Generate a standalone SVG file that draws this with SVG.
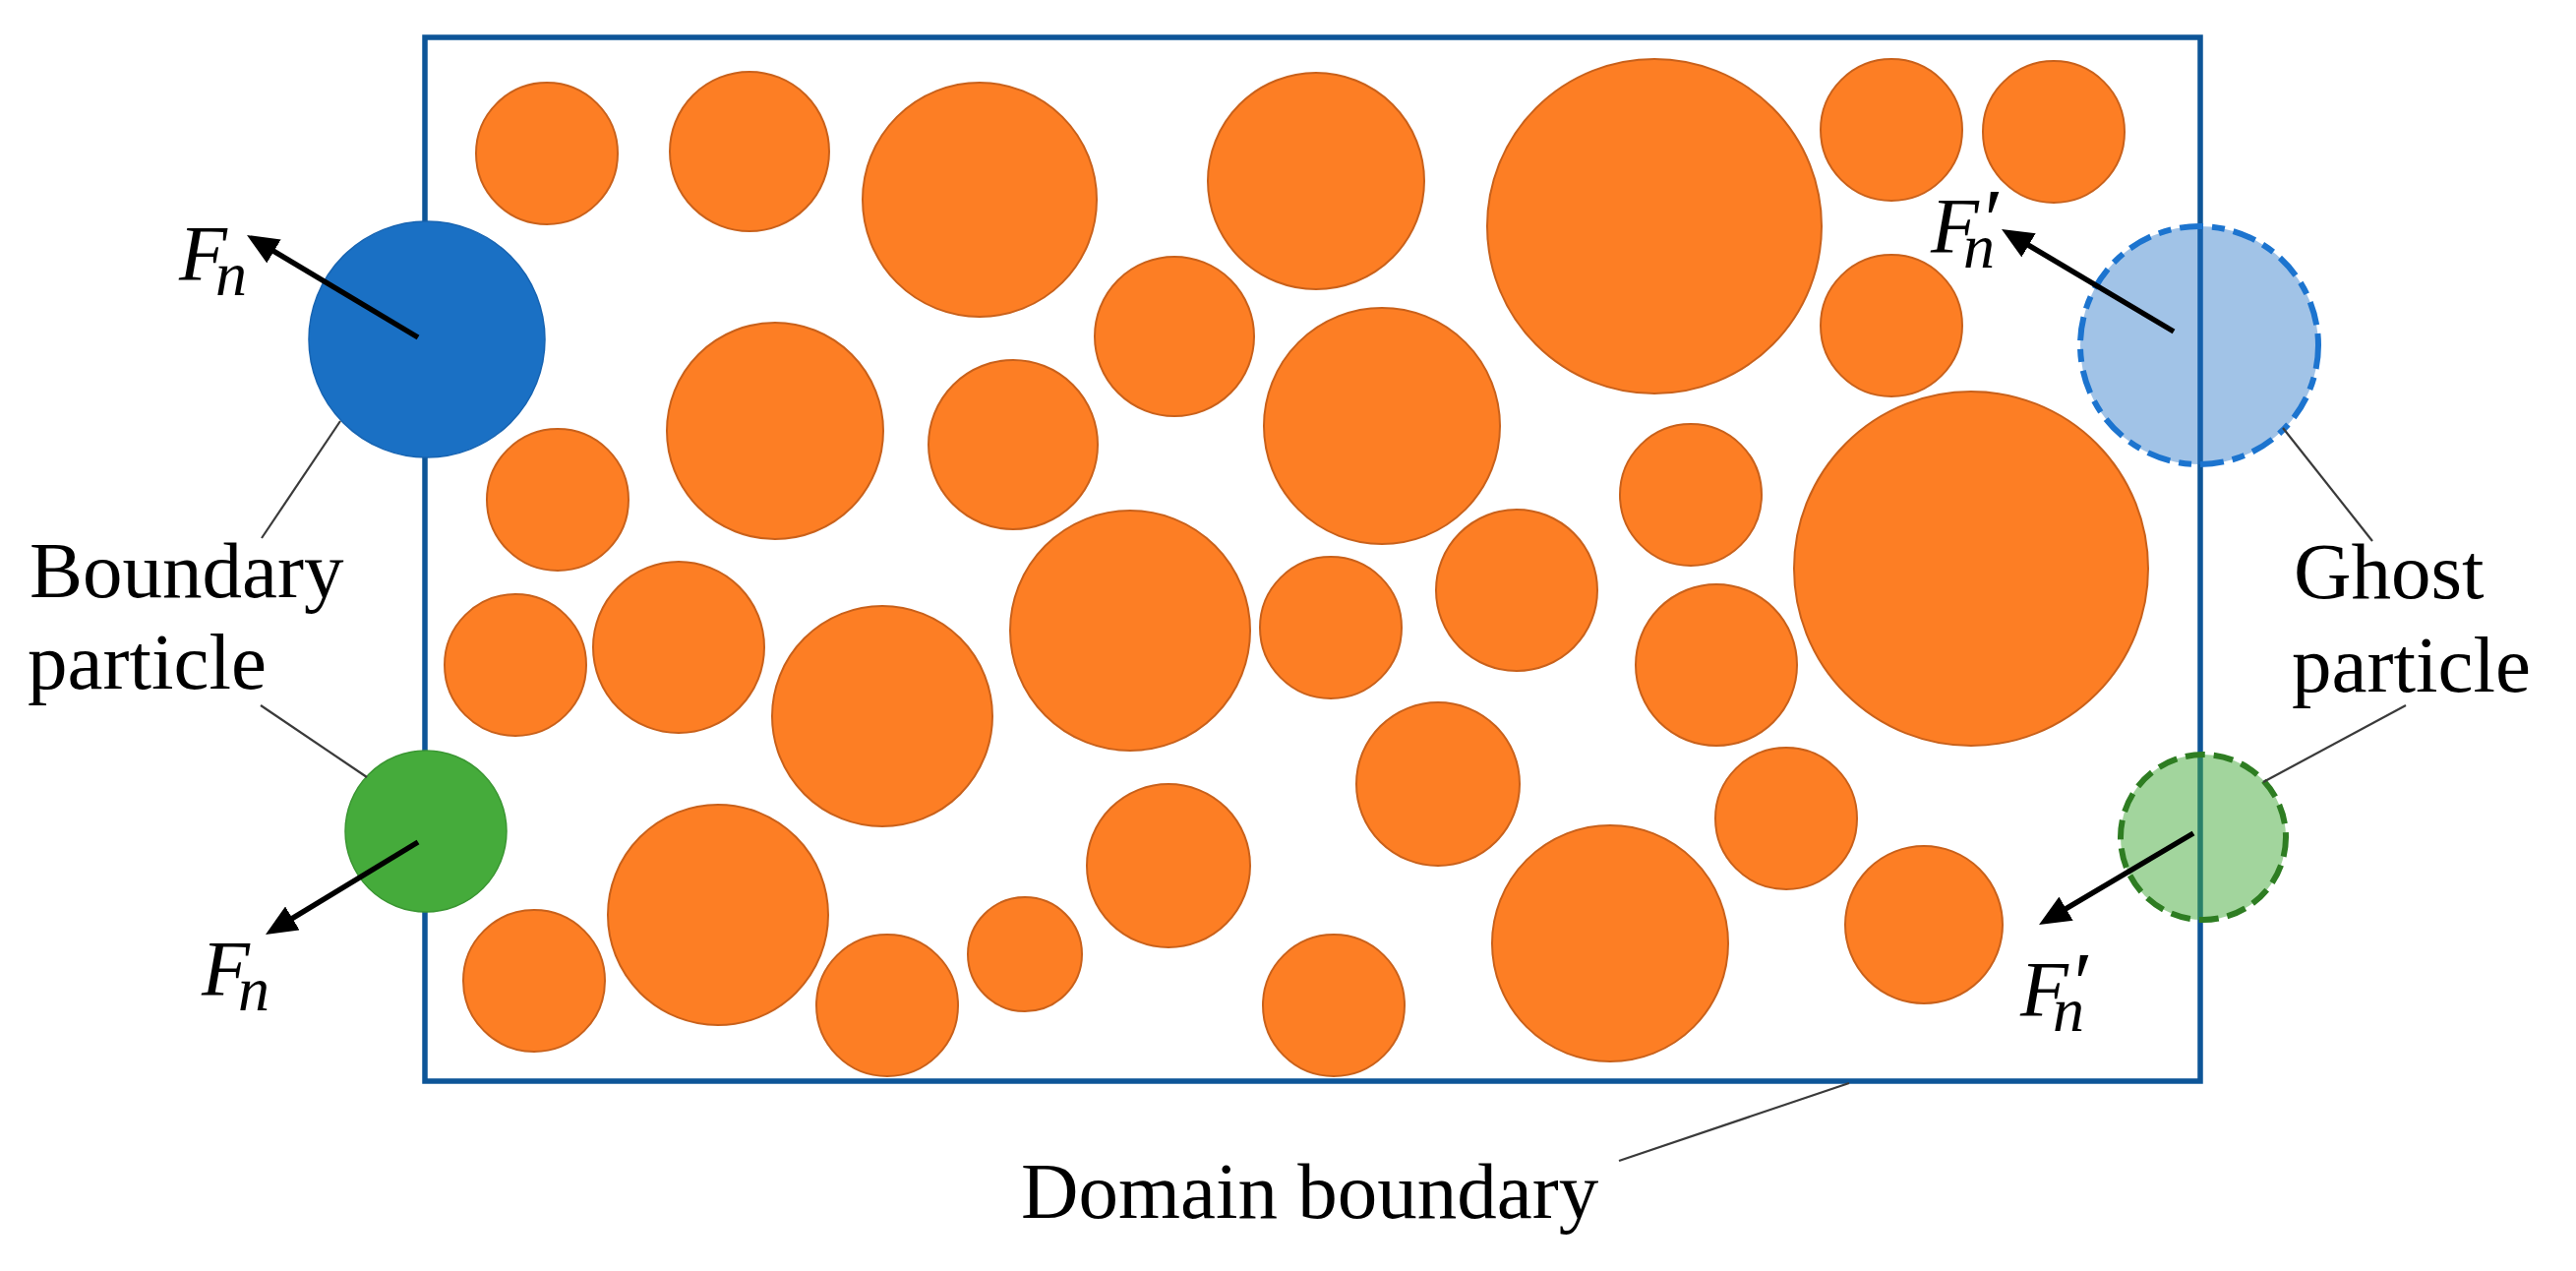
<svg xmlns="http://www.w3.org/2000/svg" width="2619" height="1292" viewBox="0 0 2619 1292">
<style>
.bg{fill:#ffffff}
.domain{fill:none;stroke:#0D5598;stroke-width:5.5}
.p{fill:#FD7E24;stroke:#C9611B;stroke-width:2}
.bblue{fill:#1A70C4;stroke:#1764B2;stroke-width:1.5}
.bgreen{fill:#45AB3B;stroke:#3A9632;stroke-width:1.5}
.gblue{fill:#1F70C6;fill-opacity:0.42}
.gblue-s{fill:none;stroke:#1C74CF;stroke-width:6;stroke-dasharray:24 9 13 9}
.ggreen{fill:#45AB3B;fill-opacity:0.5}
.ggreen-s{fill:none;stroke:#2E7D22;stroke-width:6;stroke-dasharray:20 9}
.force{fill:none;stroke:#000;stroke-width:5.5;marker-end:url(#ah)}
.leader{fill:none;stroke:#3a3a3a;stroke-width:2.2}
.lbl{font-family:"Liberation Serif",serif;font-size:81px;fill:#000}
.math{font-family:"Liberation Serif",serif;font-style:italic;font-size:80px;fill:#000}
.sub{font-size:64px}
.prime{font-size:88px}
</style>
<defs>
<marker id="ah" markerUnits="userSpaceOnUse" viewBox="0 -14 32 28" refX="24" refY="0" markerWidth="32" markerHeight="28" orient="auto">
<path d="M0,-14 L32,0 L0,14 z" fill="#000"/>
</marker>
</defs>
<rect class="bg" x="0" y="0" width="2619" height="1292"/>
<g id="domain-boundary">
<rect class="domain" x="432" y="38" width="1805" height="1061"/>
</g>
<g id="particles">
<circle class="p" cx="556" cy="156" r="72"/>
<circle class="p" cx="762" cy="154" r="81"/>
<circle class="p" cx="996" cy="203" r="119"/>
<circle class="p" cx="1338" cy="184" r="110"/>
<circle class="p" cx="1682" cy="230" r="170"/>
<circle class="p" cx="1923" cy="132" r="72"/>
<circle class="p" cx="2088" cy="134" r="72"/>
<circle class="p" cx="1194" cy="342" r="81"/>
<circle class="p" cx="1923" cy="331" r="72"/>
<circle class="p" cx="788" cy="438" r="110"/>
<circle class="p" cx="1030" cy="452" r="86"/>
<circle class="p" cx="1405" cy="433" r="120"/>
<circle class="p" cx="567" cy="508" r="72"/>
<circle class="p" cx="1719" cy="503" r="72"/>
<circle class="p" cx="2004" cy="578" r="180"/>
<circle class="p" cx="1149" cy="641" r="122"/>
<circle class="p" cx="1542" cy="600" r="82"/>
<circle class="p" cx="690" cy="658" r="87"/>
<circle class="p" cx="524" cy="676" r="72"/>
<circle class="p" cx="897" cy="728" r="112"/>
<circle class="p" cx="1353" cy="638" r="72"/>
<circle class="p" cx="1745" cy="676" r="82"/>
<circle class="p" cx="1462" cy="797" r="83"/>
<circle class="p" cx="1816" cy="832" r="72"/>
<circle class="p" cx="1188" cy="880" r="83"/>
<circle class="p" cx="730" cy="930" r="112"/>
<circle class="p" cx="543" cy="997" r="72"/>
<circle class="p" cx="902" cy="1022" r="72"/>
<circle class="p" cx="1042" cy="970" r="58"/>
<circle class="p" cx="1356" cy="1022" r="72"/>
<circle class="p" cx="1637" cy="959" r="120"/>
<circle class="p" cx="1956" cy="940" r="80"/>
</g>
<g id="boundary-particle-blue">
<circle class="bblue" cx="434" cy="345" r="120"/>
</g>
<g id="boundary-particle-green">
<circle class="bgreen" cx="433" cy="845" r="82"/>
</g>
<g id="ghost-particle-blue">
<circle class="gblue" cx="2236" cy="351" r="121"/>
<circle class="gblue-s" cx="2236" cy="351" r="121"/>
</g>
<g id="ghost-particle-green">
<circle class="ggreen" cx="2240" cy="851" r="84"/>
<circle class="ggreen-s" cx="2240" cy="851" r="84"/>
</g>
<g id="connectors">
<path class="force" d="M425,343 L257.9,243.1"/>
<path class="force" d="M425,856 L276.8,945.9"/>
<path class="force" d="M2210,337 L2041.9,237.1"/>
<path class="force" d="M2230,847 L2079.9,935.9"/>
<path class="leader" d="M346,428 L266,547"/>
<path class="leader" d="M373,790 L265,717"/>
<path class="leader" d="M2321,435 L2412,550"/>
<path class="leader" d="M2446,717 L2301,795"/>
<path class="leader" d="M1880,1101 L1646,1180"/>
</g>
<g id="labels">
<text class="lbl" x="30" y="607">Boundary</text>
<text class="lbl" x="28" y="700">particle</text>
<text class="lbl" x="2332" y="608">Ghost</text>
<text class="lbl" x="2330" y="703">particle</text>
<text class="lbl" x="1038" y="1238">Domain boundary</text>
<text class="math" x="182" y="285">F<tspan class="sub" dx="-12" dy="15">n</tspan></text>
<text class="math" x="205" y="1012">F<tspan class="sub" dx="-12" dy="15">n</tspan></text>
<text class="math" x="1963" y="257">F<tspan class="prime" x="2012" y="253">′</tspan><tspan class="sub" x="1996" y="272">n</tspan></text>
<text class="math" x="2054" y="1033">F<tspan class="prime" x="2103" y="1029">′</tspan><tspan class="sub" x="2087" y="1048">n</tspan></text>
</g>
</svg>
